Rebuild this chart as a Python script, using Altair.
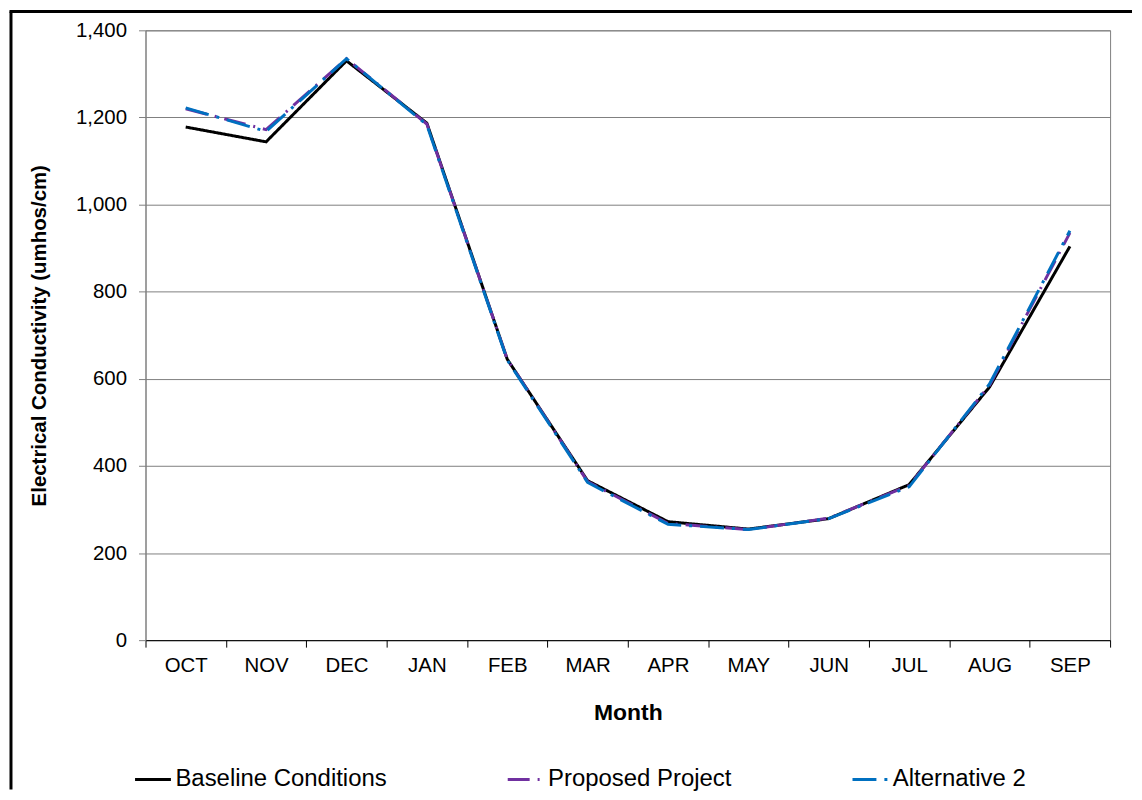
import altair as alt
import pandas as pd

months = ["OCT", "NOV", "DEC", "JAN", "FEB", "MAR", "APR", "MAY", "JUN", "JUL", "AUG", "SEP"]
baseline = [1178, 1144, 1330, 1187, 645, 366, 272, 255, 279, 357, 581, 904]
proposed = [1220, 1172, 1335, 1185, 645, 364, 268, 254, 280, 355, 585, 935]
alternative2 = [1222, 1168, 1335, 1183, 643, 362, 266, 254, 279, 352, 588, 940]
series_names = ["Baseline Conditions", "Proposed Project", "Alternative 2"]

rows = []
for name, vals in zip(series_names, [baseline, proposed, alternative2]):
    for m, v in zip(months, vals):
        rows.append({"Month": m, "EC": v, "Series": name, "order": series_names.index(name)})
df = pd.DataFrame(rows)

FONT = "Liberation Sans"
W, H = 968, 612

lines = alt.Chart(df).mark_line(strokeWidth=3).encode(
    x=alt.X("Month:N", sort=months, bandPosition=0.5,
            scale=alt.Scale(type="band", paddingInner=0, paddingOuter=0),
            axis=alt.Axis(title="Month", labelAngle=0, tickBand="extent", grid=False,
                          domainColor="#000000", tickColor="#000000", tickSize=7,
                          labelFontSize=20.5, labelPadding=8, labelColor="#000000",
                          titleFontSize=23, titleFontWeight="bold", titlePadding=26,
                          titleColor="#000000")),
    y=alt.Y("EC:Q", scale=alt.Scale(domain=[0, 1400], nice=False),
            axis=alt.Axis(title="Electrical Conductivity (umhos/cm)", values=list(range(0, 1401, 200)),
                          format=",.0f", grid=True, gridColor="#808080", gridWidth=1,
                          domainColor="#808080", tickColor="#808080", tickSize=7,
                          labelFontSize=20.5, labelPadding=12, labelColor="#000000",
                          titleFontSize=20.5, titleFontWeight="bold", titlePadding=26,
                          titleColor="#000000")),
    color=alt.Color("Series:N", sort=series_names,
                    scale=alt.Scale(domain=series_names, range=["#000000", "#7030A0", "#0070C0"]),
                    legend=alt.Legend(title=None, orient="none", legendX=-12, legendY=732,
                                      direction="horizontal", columns=3, columnPadding=114,
                                      symbolType="stroke", symbolSize=1296, symbolStrokeWidth=3,
                                      labelFontSize=24, labelColor="#000000", labelLimit=400,
                                      labelOffset=3)),
    strokeDash=alt.StrokeDash("Series:N", sort=series_names,
                              scale=alt.Scale(domain=series_names,
                                              range=[[1, 0], [22, 8, 2, 8], [24, 8, 3, 8]]),
                              legend=None),
    order=alt.Order("order:Q"),
    detail="Series:N",
)

frame_data = alt.Data(values=[{"a": 1}])
left_edge = alt.Chart(frame_data).mark_rule(color="#000000", strokeWidth=3).encode(
    x=alt.value(-135), y=alt.value(-19), y2=alt.value(762))
top_edge = alt.Chart(frame_data).mark_rule(color="#000000", strokeWidth=3).encode(
    x=alt.value(-136.5), x2=alt.value(990), y=alt.value(-19))

chart = alt.layer(lines, left_edge, top_edge).properties(
    width=W, height=H, padding=0, background="#ffffff"
).configure(font=FONT).configure_view(stroke="#808080", strokeWidth=1)

chart.save("out.html", embed_options={"renderer": "svg", "actions": False})
